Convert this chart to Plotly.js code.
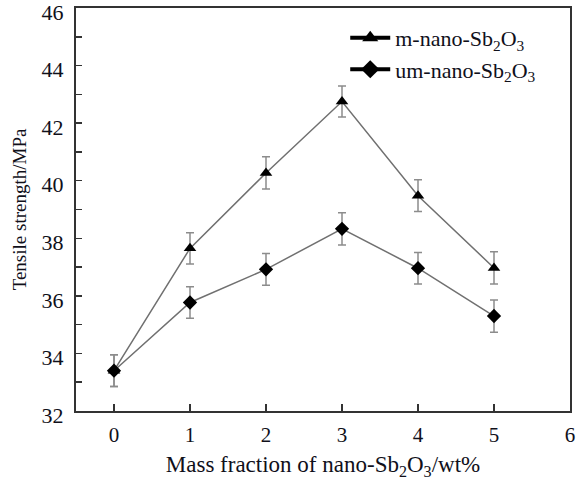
<!DOCTYPE html>
<html>
<head>
<meta charset="utf-8">
<script src="https://cdn.plot.ly/plotly-3.0.1.min.js"></script>
<style>
  html, body { margin: 0; padding: 0; background: #fff; }
  #myDiv { width: 578px; height: 480px; }
</style>
</head>
<body>
<div id="myDiv"></div>
<script>
// mass fraction of nano-Sb2O3 (wt%)
const massFraction = [0, 1, 2, 3, 4, 5];
// tensile strength (MPa)
const mNano = [33.4, 37.65, 40.27, 42.75, 39.48, 36.97];
const umNano = [33.4, 35.77, 36.92, 38.33, 36.96, 35.3];
// error bar half widths
const mErr = [0.55, 0.54, 0.56, 0.54, 0.55, 0.56];
const umErr = [0.55, 0.55, 0.55, 0.56, 0.55, 0.56];
// legend names
const seriesNames = ['m-nano-Sb<sub>2</sub>O<sub>3</sub>', 'um-nano-Sb<sub>2</sub>O<sub>3</sub>'];

const serif = 'Liberation Serif, Times New Roman, serif';
const ink = '#10101a';

function series(y, err, symbol) {
    return {
        x: massFraction,
        y: y,
        type: 'scatter',
        mode: 'lines+markers',
        showlegend: false,
        line: { color: '#707070', width: 1.5 },
        marker: { symbol: symbol, size: 11, color: '#000' },
        error_y: { type: 'data', array: err, visible: true, color: '#8c8c8c', thickness: 1.5, width: 4 }
    };
}

// legend entries only (no points drawn), black thick key lines like the figure
function key(name, symbol, group) {
    return {
        x: [null],
        y: [null],
        name: name,
        legendgroup: group,
        type: 'scatter',
        mode: 'lines+markers',
        line: { color: '#000', width: 4 },
        marker: { symbol: symbol, size: 14, color: '#000' }
    };
}

var data = [
    series(mNano, mErr, 'triangle-up'),
    series(umNano, umErr, 'diamond'),
    key(seriesNames[0], 'triangle-up', 'a'),
    key(seriesNames[1], 'diamond', 'b')
];

var layout = {
    width: 578,
    height: 480,
    margin: { l: 76, r: 8, t: 8, b: 69 },
    paper_bgcolor: '#fff',
    plot_bgcolor: '#fff',
    font: { family: serif, size: 21, color: ink },
    showlegend: true,
    legend: {
        x: 0.545,
        y: 0.978,
        xanchor: 'left',
        yanchor: 'top',
        itemwidth: 40,
        font: { family: serif, size: 22, color: ink },
        bgcolor: 'rgba(0,0,0,0)',
        tracegroupgap: 0
    },
    xaxis: {
        range: [-0.5, 6],
        tickvals: [0, 1, 2, 3, 4, 5, 6],
        ticks: 'inside',
        ticklen: 7,
        tickwidth: 1.5,
        tickcolor: '#333',
        showline: true,
        linecolor: '#333',
        linewidth: 2,
        mirror: true,
        showgrid: false,
        zeroline: false,
        ticklabelstandoff: 4,
        tickfont: { family: serif, size: 21, color: ink },
        title: { text: 'Mass fraction of nano-Sb<sub>2</sub>O<sub>3</sub>/wt%', font: { family: serif, size: 23, color: ink }, standoff: 14 }
    },
    yaxis: {
        range: [32, 46],
        dtick: 2,
        ticks: 'inside',
        ticklen: 6,
        tickwidth: 1.5,
        tickcolor: '#333',
        minor: { dtick: 1, ticks: 'inside', ticklen: 6, tickwidth: 1.5, tickcolor: '#333', showgrid: false },
        showline: true,
        linecolor: '#333',
        linewidth: 2,
        mirror: true,
        showgrid: false,
        zeroline: false,
        ticklabeloverflow: 'allow',
        ticklabelstandoff: 6,
        ticklabelshift: 4,
        tickfont: { family: serif, size: 22, color: ink },
        title: { text: 'Tensile strength/MPa', font: { family: serif, size: 19, color: ink }, standoff: 10 }
    }
};

Plotly.newPlot('myDiv', data, layout, { displayModeBar: false, staticPlot: true });
</script>
</body>
</html>
